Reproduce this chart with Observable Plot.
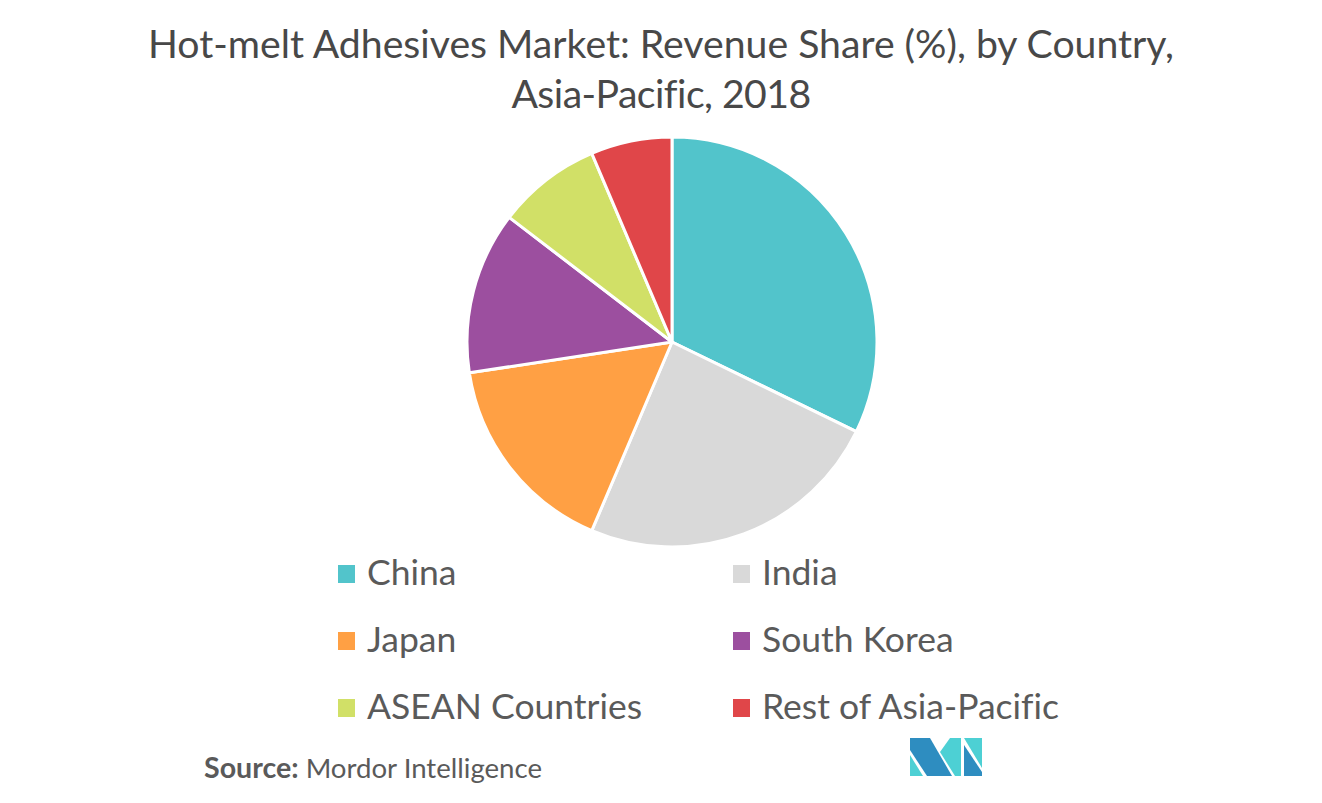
<!DOCTYPE html>
<html>
<head>
<meta charset="utf-8">
<script src="https://cdn.jsdelivr.net/npm/d3@7"></script>
<script src="https://cdn.jsdelivr.net/npm/@observablehq/plot@0.6"></script>
<style>
html,body{margin:0;padding:0;background:#fff;width:1322px;height:803px;overflow:hidden;font-family:Lato,sans-serif;font-variant-ligatures:none}
#title{position:absolute;left:11px;top:18px;width:1300px;text-align:center;font-size:39.2px;line-height:50px;font-weight:400;color:#484848}
#title span{letter-spacing:-0.55px}
#chart{position:absolute;left:22px;top:130px;width:1300px;height:424px}
#chart svg{display:block}
#legend{position:absolute;left:0;top:540px;width:1322px;height:190px}
.item{position:absolute;font-size:35.5px;line-height:44px;color:#5a5a5a;white-space:nowrap}
.sw{position:absolute;width:17px;height:18px}
#source{position:absolute;left:204px;top:749px;font-size:27.6px;line-height:36px;color:#5a5a5a;white-space:nowrap}
#source b{font-weight:700;font-size:28.6px;margin-right:0}
#logo{position:absolute;left:908px;top:736px}
</style>
</head>
<body>
<div id="title">Hot-melt Adhesives Market: Revenue Share (%), by Country,<br><span>Asia-Pacific, 2018</span></div>
<div id="chart"></div>
<div id="legend"></div>
<div id="source"><b>Source:</b> Mordor Intelligence</div>
<svg id="logo" width="78" height="42" viewBox="0 0 78 42">
  <polygon points="2,2 22,2 44,40 19,40 2,14" fill="#2e8dc0"/>
  <polygon points="2,19 15,40 2,40" fill="#4dd0d4"/>
  <polygon points="42,2 53,2 53,40 47,40 32,16" fill="#4dd0d4"/>
  <polygon points="56,2 74,2 74,32" fill="#4dd0d4"/>
  <polygon points="56,9 74,36 74,40 56,40" fill="#2e8dc0"/>
</svg>
<script>
const countries = ["China","India","Japan","South Korea","ASEAN Countries","Rest of Asia-Pacific"];
const shares = [32.2,24.2,16.2,12.8,8.2,6.4];
const colors = ["#52c4cb","#d9d9d9","#ffa044","#9c4f9f","#d1e067","#e04649"];
const legendX = [338,733];
const legendY = [34,101,168];

const rows = countries.map((country,i)=>({country,share:shares[i]}));
const W = 1300, H = 424, R = 205;

const pie = Plot.plot({
  width: W, height: H,
  margin: 0,
  style: {background:"transparent"},
  x: {domain:[0,100], range:[0,2*Math.PI], axis:null},
  color: {domain:countries, range:colors},
  marks: [
    Plot.barX(rows, Plot.stackX({
      x:"share", fill:"country", order:null,
      render(index, scales, values, dim, ctx){
        const arc = d3.arc().innerRadius(0).outerRadius(R);
        const g = d3.select(ctx.document.createElementNS("http://www.w3.org/2000/svg","g"))
          .attr("transform",`translate(${dim.width/2},${dim.height/2})`);
        g.selectAll("path").data(index).join("path")
          .attr("d",i=>arc({startAngle:values.x1[i],endAngle:values.x2[i]}))
          .attr("fill",i=>values.fill ? values.fill[i] : scales.color(rows[i].country))
          .attr("stroke","#fff").attr("stroke-width",3).attr("stroke-linejoin","round");
        return g.node();
      }
    }))
  ]
});
document.getElementById("chart").append(pie);

const legend = document.getElementById("legend");
countries.forEach((c,i)=>{
  const col = i%2, row = Math.floor(i/2);
  const sw = document.createElement("div");
  sw.className="sw"; sw.style.background=colors[i];
  sw.style.left=legendX[col]+"px"; sw.style.top=legendY[row]-9+"px";
  const t = document.createElement("div");
  t.className="item"; t.textContent=c;
  t.style.left=legendX[col]+29+"px"; t.style.top=legendY[row]-24+"px";
  legend.append(sw,t);
});
</script>
</body>
</html>
